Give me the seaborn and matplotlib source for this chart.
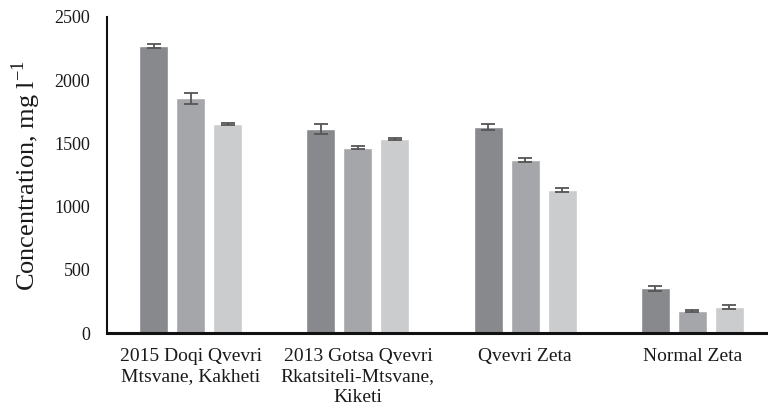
import matplotlib
matplotlib.use("Agg")
import matplotlib.pyplot as plt
import seaborn as sns
import pandas as pd
import numpy as np

categories = ["2015 Doqi Qvevri\nMtsvane, Kakheti",
              "2013 Gotsa Qvevri\nRkatsiteli-Mtsvane,\nKiketi",
              "Qvevri Zeta",
              "Normal Zeta"]
series_names = ["Series 1", "Series 2", "Series 3"]
series1 = [2270, 1614, 1630, 353]
series2 = [1857, 1464, 1366, 174]
series3 = [1651, 1535, 1131, 206]
err1 = [15, 36, 24, 20]
err2 = [42, 12, 15, 8]
err3 = [8, 5, 15, 15]
colors = ["#88898d", "#a5a6a9", "#cbcccd"]

rows = []
for s, vals, errs in zip(series_names, [series1, series2, series3], [err1, err2, err3]):
    for c, v, e in zip(categories, vals, errs):
        rows.append({"cat": c, "series": s, "value": v, "err": e})
df = pd.DataFrame(rows)

sns.set_style("white")
plt.rcParams["font.family"] = ["Liberation Serif", "DejaVu Serif"]
plt.rcParams["mathtext.fontset"] = "custom"
plt.rcParams["mathtext.rm"] = "Liberation Serif"

fig = plt.figure(figsize=(7.68, 4.13), dpi=100)
ax = fig.add_axes([107/768, 1-333/413, (776-107)/768, (333-17)/413])

sns.barplot(data=df, x="cat", y="value", hue="series", order=categories,
            hue_order=series_names, palette=colors, width=0.663, gap=0.217,
            errorbar=None, ax=ax, legend=False, saturation=1)

# error bars at the centers of the drawn bars
bars = list(ax.patches)
sub = df.set_index(["series", "cat"])
i = 0
for s in series_names:
    for c in categories:
        p = bars[i]
        xc = p.get_x() + p.get_width() / 2
        ax.errorbar(xc, sub.loc[(s, c), "value"], yerr=sub.loc[(s, c), "err"],
                    fmt="none", ecolor="#555555", elinewidth=1.3, capsize=5, capthick=1.3)
        i += 1

ax.set_ylim(0, 2500)
ax.set_xlim(-0.5, 3.5)
ax.set_yticks([0, 500, 1000, 1500, 2000, 2500])
ax.tick_params(axis="both", length=0, colors="#1a1a1a")
ax.tick_params(axis="y", pad=12, labelsize=13)
ax.tick_params(axis="x", pad=11, labelsize=14)
for lbl in ax.get_xticklabels():
    lbl.set_linespacing(1.25)
ax.set_xlabel("")
ax.set_ylabel(r"Concentration, mg l$^{-1}$", fontsize=19, color="#1a1a1a", labelpad=8)
for side in ["top", "right"]:
    ax.spines[side].set_visible(False)
ax.spines["left"].set_color("#111111")
ax.spines["left"].set_linewidth(1.5)
ax.spines["bottom"].set_color("#111111")
ax.spines["bottom"].set_linewidth(2.2)

fig.savefig("out.png", dpi=100)
